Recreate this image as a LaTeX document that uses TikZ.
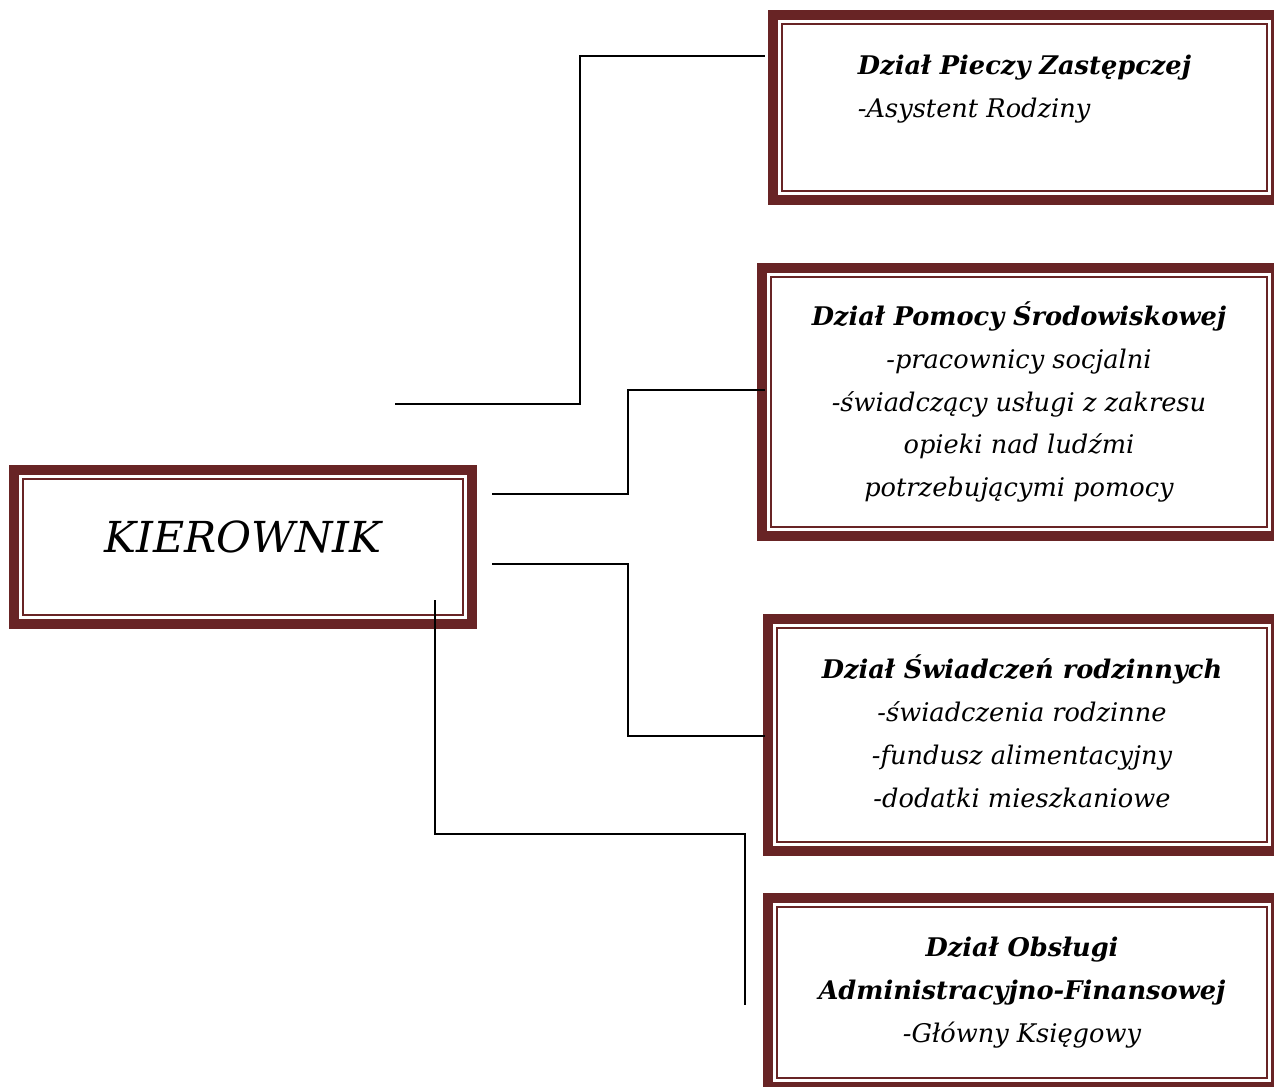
\documentclass[tikz,border=0pt]{standalone}
\usepackage{fontspec}
\setmainfont{DejaVu Serif}
\usetikzlibrary{calc, positioning}
\definecolor{bordo}{RGB}{104,36,37}

\begin{document}
\begin{tikzpicture}[x=0.2mm, y=-0.2mm]
\tikzstyle{dept}=[draw=bordo, line width=2mm, rectangle, outer sep=0, inner sep=0, align=center, font=\fontsize{14.6}{24.4}\selectfont\itshape]
\tikzstyle{inner frame}=[draw=bordo, line width=0.4mm]
\tikzstyle{connector}=[draw=black, line width=0.35mm]

\clip (0,0) rectangle (1274,1086);

% Boxes
\node[dept, minimum width=91.6mm, minimum height=30.8mm, font=\fontsize{24.3}{28}\selectfont\itshape] (kierownik) at (243,547) {\raisebox{4.2mm}{KIEROWNIK}};
\node[dept, minimum width=100.6mm, minimum height=37mm, align=left] (piecza) at (1024.5,107.5)
  {\textbf{Dział Pieczy Zastępczej}\\-Asystent Rodziny\\\mbox{}};
\node[dept, minimum width=102.8mm, minimum height=53.6mm] (pomoc) at (1019,402)
  {\textbf{Dział Pomocy Środowiskowej}\\-pracownicy socjalni\\-świadczący usługi z zakresu\\opieki nad ludźmi\\potrzebującymi pomocy};
\node[dept, minimum width=101.6mm, minimum height=46.4mm] (swiadczenia) at (1022,735)
  {\textbf{Dział Świadczeń rodzinnych}\\-świadczenia rodzinne\\-fundusz alimentacyjny\\-dodatki mieszkaniowe\raisebox{0pt}[0pt][1.6mm]{}};
\node[dept, minimum width=101.6mm, minimum height=37.8mm] (obsluga) at (1022,992.5)
  {\textbf{Dział Obsługi}\\\textbf{Administracyjno-Finansowej}\\-Główny Księgowy};

\foreach \n in {kierownik, piecza, pomoc, swiadczenia, obsluga}
  \draw[inner frame] ($(\n.north west)+(9,9)$) rectangle ($(\n.south east)+(-9,-9)$);

% Connectors
\coordinate (k1) at (395,404);
\coordinate (o1) at (745,1005);
\draw[connector] (k1) -| (580,56) -- ($(piecza.west)+(-8,-51.5)$);
\draw[connector] ($(kierownik.east)+(20,-53)$) -| (628,390) -- ($(pomoc.west)+(3,-12)$);
\draw[connector] ($(kierownik.east)+(20,17)$) -| (628,736) -- ($(swiadczenia.west)+(-3,1)$);
\draw[connector] ($(kierownik.south)+(192,-24)$) |- (745,834) -- (o1);
\end{tikzpicture}
\end{document}
